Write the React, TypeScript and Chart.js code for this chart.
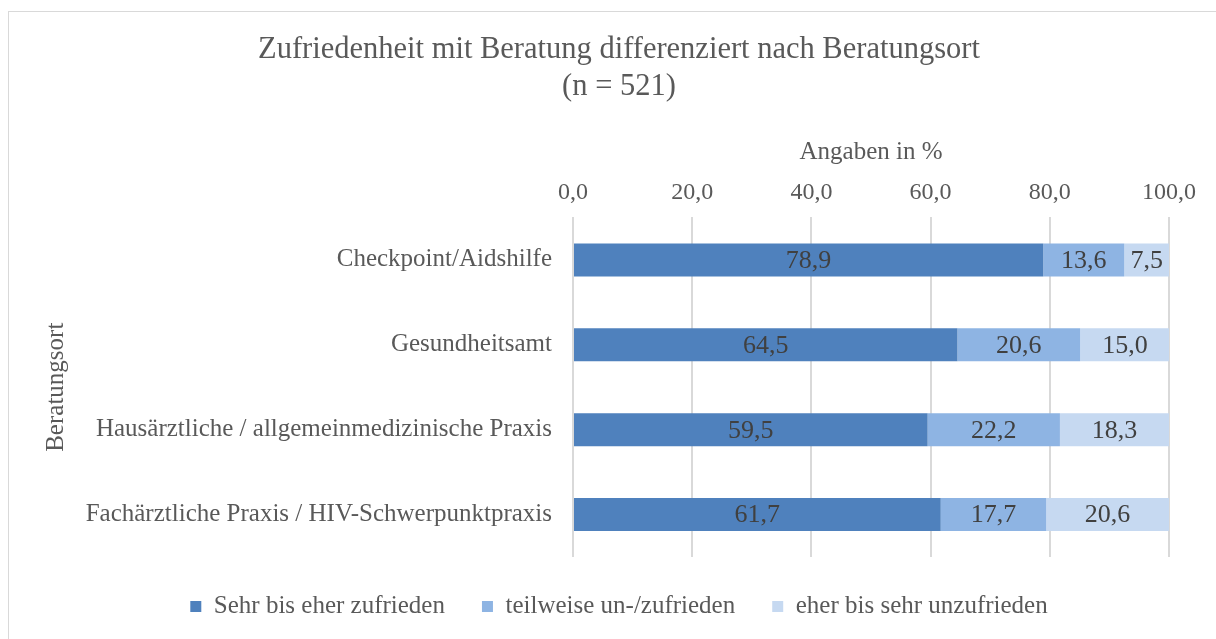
import React, { useEffect, useRef } from "react";
import { Chart, registerables } from "chart.js";

Chart.register(...registerables);

const categories = [
  "Checkpoint/Aidshilfe",
  "Gesundheitsamt",
  "Hausärztliche / allgemeinmedizinische Praxis",
  "Fachärztliche Praxis / HIV-Schwerpunktpraxis",
];
const seriesNames = [
  "Sehr bis eher zufrieden",
  "teilweise un-/zufrieden",
  "eher bis sehr unzufrieden",
];
const zufrieden = [78.9, 64.5, 59.5, 61.7];
const teilweise = [13.6, 20.6, 22.2, 17.7];
const unzufrieden = [7.5, 15.0, 18.3, 20.6];
const seriesColors = ["#4F81BD", "#8EB4E3", "#C6D9F1"];
const xTickValues = [0, 20, 40, 60, 80, 100];
const titleLines = ["Zufriedenheit mit Beratung differenziert nach Beratungsort", "(n = 521)"];
const xAxisTitle = "Angaben in %";
const yAxisTitle = "Beratungsort";

const FONT = "'Liberation Serif', 'Times New Roman', serif";
const fmt = (v: number) => v.toFixed(1).replace(".", ",");

const dataLabelPlugin = {
  id: "dataLabels",
  afterDatasetsDraw(chart: any) {
    const ctx = chart.ctx;
    ctx.save();
    ctx.font = `26px ${FONT}`;
    ctx.fillStyle = "#404040";
    ctx.textAlign = "center";
    ctx.textBaseline = "middle";
    chart.data.datasets.forEach((ds: any, di: number) => {
      const meta = chart.getDatasetMeta(di);
      meta.data.forEach((el: any, i: number) => {
        const v = ds.data[i];
        const cx = (el.x + el.base) / 2;
        ctx.fillText(fmt(v), cx, el.y + 1);
      });
    });
    ctx.restore();
  },
};

export default function App() {
  const ref = useRef<HTMLCanvasElement | null>(null);
  useEffect(() => {
    if (!ref.current) return;
    const chart = new Chart(ref.current, {
      type: "bar",
      data: {
        labels: categories,
        datasets: [zufrieden, teilweise, unzufrieden].map((d, i) => ({
          label: seriesNames[i],
          data: d,
          backgroundColor: seriesColors[i],
          borderWidth: 0,
          barPercentage: 0.39,
          categoryPercentage: 1,
        })),
      },
      options: {
        indexAxis: "y",
        responsive: false,
        animation: false,
        devicePixelRatio: 1,
        layout: { padding: { top: 0, left: 22, right: 0, bottom: 10 } },
        plugins: {
          tooltip: { enabled: false },
          title: {
            display: true,
            text: titleLines,
            color: "#595959",
            font: { family: FONT, size: 30.5, weight: "normal", lineHeight: 1.213 },
            padding: { top: 31.5, bottom: 32 },
          },
          legend: {
            position: "bottom",
            labels: {
              color: "#595959",
              font: { family: FONT, size: 25 },
              boxWidth: 11,
              boxHeight: 11,
              padding: 37,
            },
          },
        },
        scales: {
          x: {
            position: "top",
            stacked: true,
            min: 0,
            max: 100,
            afterBuildTicks: (axis: any) => {
              axis.ticks = xTickValues.map((v) => ({ value: v }));
            },
            ticks: {
              color: "#595959",
              font: { family: FONT, size: 24, lineHeight: 1.2 },
              padding: 10.6,
              callback: (v: any) => fmt(Number(v)),
            },
            grid: { color: "#D9D9D9", lineWidth: 2, drawTicks: false },
            border: { display: false },
            title: {
              display: true,
              text: xAxisTitle,
              color: "#595959",
              font: { family: FONT, size: 25, lineHeight: 1.2 },
              padding: { top: 0, bottom: 0 },
            },
          },
          y: {
            stacked: true,
            afterFit: (scale: any) => {
              scale.width = 551;
            },
            ticks: {
              color: "#595959",
              font: { family: FONT, size: 25 },
              padding: 21,
            },
            grid: { display: false, drawTicks: false },
            border: { display: false },
            title: {
              display: true,
              text: yAxisTitle,
              color: "#595959",
              font: { family: FONT, size: 25, lineHeight: 1.2 },
              padding: { top: 19, bottom: 9 },
            },
          },
          y2: {
            type: "linear",
            position: "right",
            display: true,
            ticks: { display: false },
            grid: { display: false, drawTicks: true, tickLength: 47 },
            border: { display: false },
          },
        },
      },
      plugins: [dataLabelPlugin],
    } as any);
    return () => chart.destroy();
  }, []);

  return (
    <div
      style={{
        position: "fixed",
        left: 0,
        top: 0,
        width: 1216,
        height: 639,
        overflow: "hidden",
        background: "#ffffff",
      }}
    >
      <div
        style={{
          position: "absolute",
          left: 8,
          top: 11,
          width: 1300,
          height: 700,
          border: "1px solid #D9D9D9",
          boxSizing: "border-box",
        }}
      />
      <canvas
        ref={ref}
        width={1216}
        height={639}
        style={{ position: "absolute", left: 0, top: 0, width: 1216, height: 639 }}
      />
    </div>
  );
}
